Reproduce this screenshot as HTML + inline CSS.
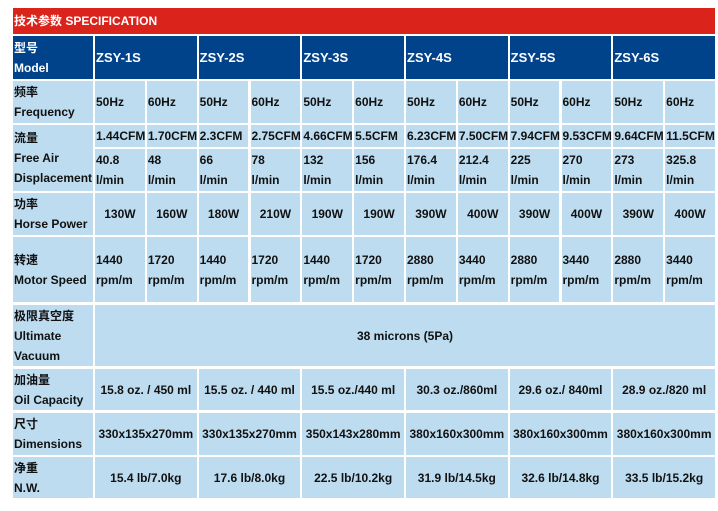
<!DOCTYPE html>
<html><head><meta charset="utf-8"><style>
body{margin:0;width:718px;height:511px;background:#fff;position:relative;overflow:hidden;font-family:"Liberation Sans","Noto Sans CJK SC",sans-serif;font-weight:bold;font-size:12px;color:#111;}
.c{position:absolute;background:#bddcf0;display:flex;align-items:center;box-sizing:border-box;line-height:20px;padding-left:1px;white-space:nowrap;overflow:visible}
.h{background:#00438b;color:#fff}
.hm{font-size:13px}
.ctr{justify-content:center;text-align:center;padding-left:0}
.red{position:absolute;left:13px;top:8px;width:702px;height:26px;background:#da231b;color:#fff;font-size:12px;line-height:26px;padding-left:1px;box-sizing:border-box}
</style></head><body>
<div class="red">技术参数 SPECIFICATION</div>
<div id="t"></div>
<script>
var X0=95,S=(620+2)/12,W=S-2;
function cx(i){return X0+i*S;}
var out='';
function cell(x,y,w,h,html,cls){out+='<div class="c '+(cls||'')+'" style="left:'+x.toFixed(2)+'px;top:'+y+'px;width:'+w.toFixed(2)+'px;height:'+h+'px"><div>'+html+'</div></div>';}
function label(y,h,html,cls){cell(13,y,80,h,html,cls);}
label(36,43,'型号<br>Model','h');
for(var i=0;i<6;i++)cell(cx(2*i),36,2*S-2,43,'ZSY-'+(i+1)+'S','h hm');
label(81,42,'频率<br>Frequency');
for(i=0;i<12;i++)cell(cx(i),81,W,42,i%2?'60Hz':'50Hz');
label(125,66,'流量<br>Free Air<br>Displacement');
var cfm=['1.44CFM','1.70CFM','2.3CFM','2.75CFM','4.66CFM','5.5CFM','6.23CFM','7.50CFM','7.94CFM','9.53CFM','9.64CFM','11.5CFM'];
var lm=['40.8','48','66','78','132','156','176.4','212.4','225','270','273','325.8'];
for(i=0;i<12;i++){cell(cx(i),125,W,22,cfm[i]);cell(cx(i),149,W,42,lm[i]+'<br>l/min');}
label(193,42,'功率<br>Horse Power');
var pw=['130W','160W','180W','210W','190W','190W','390W','400W','390W','400W','390W','400W'];
for(i=0;i<12;i++)cell(cx(i),193,W,42,pw[i],'ctr');
label(237,65,'转速<br>Motor Speed');
var ms=['1440','1720','1440','1720','1440','1720','2880','3440','2880','3440','2880','3440'];
for(i=0;i<12;i++)cell(cx(i),237,W,65,ms[i]+'<br>rpm/m');
label(305,61,'极限真空度<br>Ultimate<br>Vacuum');
cell(95,305,620,61,'38 microns (5Pa)','ctr');
label(369,41,'加油量<br>Oil Capacity');
var oil=['15.8 oz. / 450 ml','15.5 oz. / 440 ml','15.5 oz./440 ml','30.3 oz./860ml','29.6 oz./ 840ml','28.9 oz./820 ml'];
for(i=0;i<6;i++)cell(cx(2*i),369,2*S-2,41,oil[i],'ctr');
label(413,42,'尺寸<br>Dimensions');
var dm=['330x135x270mm','330x135x270mm','350x143x280mm','380x160x300mm','380x160x300mm','380x160x300mm'];
for(i=0;i<6;i++)cell(cx(2*i),413,2*S-2,42,dm[i],'ctr');
label(457,41,'净重<br>N.W.');
var nw=['15.4 lb/7.0kg','17.6 lb/8.0kg','22.5 lb/10.2kg','31.9 lb/14.5kg','32.6 lb/14.8kg','33.5 lb/15.2kg'];
for(i=0;i<6;i++)cell(cx(2*i),457,2*S-2,41,nw[i],'ctr');
document.getElementById('t').innerHTML=out;
</script>
</body></html>
